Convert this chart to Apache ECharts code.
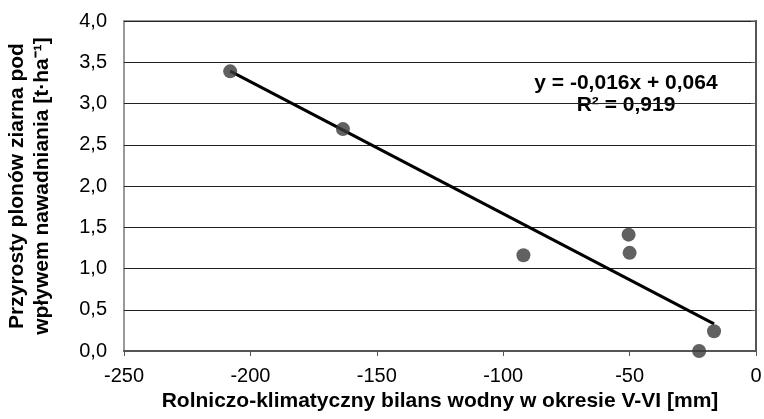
<!DOCTYPE html>
<html>
<head>
<meta charset="utf-8">
<script src="https://cdn.jsdelivr.net/npm/echarts@6/dist/echarts.min.js"></script>
<style>html,body{margin:0;padding:0;background:#fff;}#c{width:764px;height:419px;}</style>
</head>
<body>
<div id="c"></div>
<script>
const xValues = [-208, -163.4, -92, -50.4, -50, -16.6, -22.5];
const yValues = [3.39, 2.69, 1.16, 1.41, 1.19, 0.24, 0.0];
const trendX = [-208, -16.6];
const slope = -0.016, intercept = 0.064;
const trendY = trendX.map(x => slope * x + intercept);
const xTitle = 'Rolniczo-klimatyczny bilans wodny w okresie V-VI [mm]';
const yTitle = 'Przyrosty plonów ziarna pod\nwpływem nawadniania [t·ha⁻¹]';
const eqLine1 = 'y = -0,016x + 0,064';
const eqLine2 = 'R² = 0,919';

const chart = echarts.init(document.getElementById('c'));
const font = '"Liberation Sans", Arial, sans-serif';
chart.setOption({
  animation: false,
  backgroundColor: '#fff',
  grid: { left: 124, right: 8, top: 21, bottom: 68, show: true, borderColor: '#999', borderWidth: 2,
    containLabel: false, outerBoundsMode: 'none' },
  xAxis: {
    type: 'value', min: -250, max: 0, interval: 50,
    name: xTitle, nameLocation: 'middle', nameGap: 40,
    nameTextStyle: { fontFamily: font, fontWeight: 'bold', fontSize: 21, color: '#000' },
    axisLine: { show: true, onZero: false, lineStyle: { color: '#555', width: 2 } },
    axisTick: { show: true, length: 5, lineStyle: { color: '#555', width: 1 } },
    axisLabel: { fontFamily: font, fontSize: 20, color: '#000', margin: 15 },
    splitLine: { show: false }
  },
  yAxis: {
    type: 'value', min: 0, max: 4, interval: 0.5,
    name: yTitle, nameLocation: 'middle', nameGap: 69, nameRotate: 90,
    nameTextStyle: { fontFamily: font, fontWeight: 'bold', fontSize: 21, color: '#000', lineHeight: 25 },
    axisLine: { show: true, lineStyle: { color: '#555', width: 2 } },
    axisTick: { show: true, length: 5, lineStyle: { color: '#555', width: 1 } },
    axisLabel: { fontFamily: font, fontSize: 20, color: '#000', margin: 17,
      formatter: v => v.toFixed(1).replace('.', ',') },
    splitLine: { show: true, lineStyle: { color: '#222', width: 1 } }
  },
  series: [
    {
      type: 'line', data: trendX.map((x, i) => [x, trendY[i]]),
      showSymbol: false, symbol: 'none', lineStyle: { color: '#000', width: 3 }, z: 3
    },
    {
      type: 'scatter', data: xValues.map((x, i) => [x, yValues[i]]),
      symbol: 'circle', symbolSize: 14, itemStyle: { color: '#3a3a3a' }, z: 4
    }
  ],
  graphic: [
    { type: 'text', x: 626, y: 83, style: { text: eqLine1, font: 'bold 21px ' + font, fill: '#000', align: 'center', verticalAlign: 'middle' } },
    { type: 'text', x: 626, y: 105, style: { text: eqLine2, font: 'bold 21px ' + font, fill: '#000', align: 'center', verticalAlign: 'middle' } }
  ]
});
</script>
</body>
</html>
